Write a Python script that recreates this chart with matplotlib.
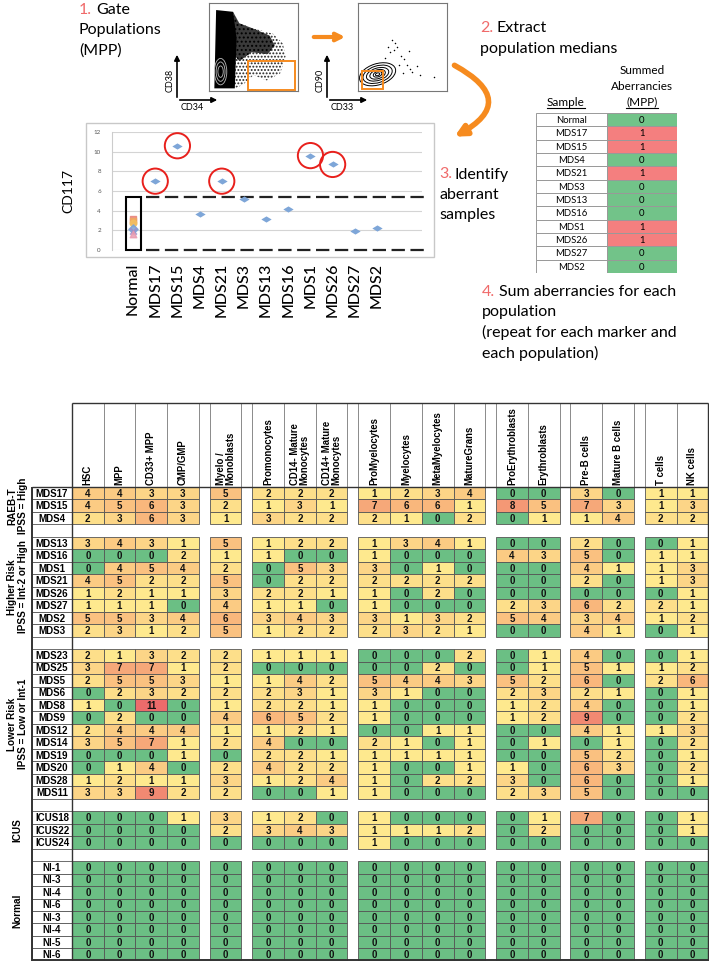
import numpy as np
import matplotlib.pyplot as plt
from matplotlib.patches import Rectangle, Ellipse, Polygon, FancyArrowPatch
from matplotlib.colors import LinearSegmentedColormap

plt.rcParams['font.family'] = ['Lato', 'DejaVu Sans']
plt.rcParams['hatch.linewidth'] = 0.9

W, H = 709, 961
ORANGE = '#f68b1f'
SALMON = '#f06a6a'
TABLE_FONT = ['Liberation Sans', 'DejaVu Sans']

# ---- step 1: gating (rough shapes of the two flow plots, % of axis range)
dense_cd34 = [8, 27, 31, 29, 6]
dense_cd38 = [92, 90, 60, 3, 3]
core_cd34 = [27, 34, 52, 68, 74, 66, 48, 34, 29]
core_cd38 = [90, 77, 70, 63, 52, 42, 44, 34, 40]
spread_cd34 = [27, 31, 50, 72, 83, 86, 80, 65, 50, 38, 29]
spread_cd38 = [90, 75, 71, 65, 54, 39, 20, 12, 18, 7, 3]
gate1 = (44, 1, 53, 33)  # x, y, w, h
cd33_dots = [30, 36, 40, 44, 48, 52, 55, 58, 42, 46, 61, 66, 70, 85, 34, 50, 38, 57]
cd90_dots = [38, 44, 47, 50, 40, 36, 30, 25, 55, 30, 22, 28, 18, 16, 50, 20, 58, 45]
gate2 = (4.5, 2, 23.5, 21)

# ---- step 3: CD117 medians on MPP
samples = ['Normal', 'MDS17', 'MDS15', 'MDS4', 'MDS21', 'MDS3', 'MDS13',
           'MDS16', 'MDS1', 'MDS26', 'MDS27', 'MDS2']
cd117 = [np.nan, 7.0, 10.6, 3.7, 7.0, 5.2, 3.2, 4.2, 9.6, 8.7, 1.9, 2.2]
normal_cd117 = [3.2, 3.0, 2.7, 2.1, 1.9, 1.6]
normal_colors = ['#e8837a', '#f0a860', '#f3c060', '#7aa3d6', '#9b8fc9', '#e89ab0']
normal_markers = ['s', 's', 'o', 'D', 'x', '^']
upper, lower = 5.4, 0.0

# ---- step 4: summed aberrancies, all populations
populations = ['HSC', 'MPP', 'CD33+ MPP', 'CMP/GMP', 'Myelo /\nMonoblasts',
               'Promonocytes', 'CD14- Mature\nMonocytes', 'CD14+ Mature\nMonocytes',
               'ProMyelocytes', 'Myelocytes', 'MetaMyelocytes', 'MatureGrans',
               'ProErythroblasts', 'Erythroblasts', 'Pre-B cells', 'Mature B cells',
               'T cells', 'NK cells']
col_groups = [4, 1, 3, 4, 2, 2, 2]

group_names = ['RAEB-T\nIPSS = High', 'Higher Risk\nIPSS = Int-2 or High',
               'Lower Risk\nIPSS = Low or Int-1', 'ICUS', 'Normal']

raebt_samples = ['MDS17', 'MDS15', 'MDS4']
raebt_vals = [
    [4, 4, 3, 3, 5, 2, 2, 2, 1, 2, 3, 4, 0, 0, 3, 0, 1, 1],
    [4, 5, 6, 3, 2, 1, 3, 1, 7, 6, 6, 1, 8, 5, 7, 3, 1, 3],
    [2, 3, 6, 3, 1, 3, 2, 2, 2, 1, 0, 2, 0, 1, 1, 4, 2, 2],
]
high_samples = ['MDS13', 'MDS16', 'MDS1', 'MDS21', 'MDS26', 'MDS27', 'MDS2', 'MDS3']
high_vals = [
    [3, 4, 3, 1, 5, 1, 2, 2, 1, 3, 4, 1, 0, 0, 2, 0, 0, 1],
    [0, 0, 0, 2, 1, 1, 0, 0, 1, 0, 0, 0, 4, 3, 5, 0, 1, 1],
    [0, 4, 5, 4, 2, 0, 5, 3, 3, 0, 1, 0, 0, 0, 4, 1, 1, 3],
    [4, 5, 2, 2, 5, 0, 2, 2, 2, 2, 2, 2, 0, 0, 2, 0, 1, 3],
    [1, 2, 1, 1, 3, 2, 2, 1, 1, 0, 2, 0, 0, 0, 0, 0, 0, 1],
    [1, 1, 1, 0, 4, 1, 1, 0, 1, 0, 0, 0, 2, 3, 6, 2, 2, 1],
    [5, 5, 3, 4, 6, 3, 4, 3, 3, 1, 3, 2, 5, 4, 3, 4, 1, 2],
    [2, 3, 1, 2, 5, 1, 2, 2, 2, 3, 2, 1, 0, 0, 4, 1, 0, 1],
]
low_samples = ['MDS23', 'MDS25', 'MDS5', 'MDS6', 'MDS8', 'MDS9', 'MDS12', 'MDS14',
               'MDS19', 'MDS20', 'MDS28', 'MDS11']
low_vals = [
    [2, 1, 3, 2, 2, 1, 1, 1, 0, 0, 0, 2, 0, 1, 4, 0, 0, 1],
    [3, 7, 7, 1, 2, 0, 0, 0, 0, 0, 2, 0, 0, 1, 5, 1, 1, 2],
    [2, 5, 5, 3, 1, 1, 4, 2, 5, 4, 4, 3, 5, 2, 6, 0, 2, 6],
    [0, 2, 3, 2, 2, 2, 3, 1, 3, 1, 0, 0, 2, 3, 2, 1, 0, 1],
    [1, 0, 11, 0, 1, 2, 2, 1, 1, 0, 0, 0, 1, 2, 4, 0, 0, 1],
    [0, 2, 0, 0, 4, 6, 5, 2, 1, 0, 0, 0, 1, 2, 9, 0, 0, 2],
    [2, 4, 4, 4, 1, 1, 2, 1, 0, 0, 1, 1, 0, 0, 4, 1, 1, 3],
    [3, 5, 7, 1, 2, 4, 0, 0, 2, 1, 0, 1, 0, 1, 0, 1, 0, 2],
    [0, 0, 0, 1, 0, 2, 2, 1, 1, 1, 1, 1, 0, 0, 5, 2, 0, 1],
    [0, 1, 4, 0, 2, 4, 2, 2, 1, 0, 0, 1, 1, 0, 6, 3, 0, 2],
    [1, 2, 1, 1, 3, 1, 2, 4, 1, 0, 2, 2, 3, 0, 6, 0, 0, 1],
    [3, 3, 9, 2, 2, 0, 0, 1, 1, 0, 0, 0, 2, 3, 5, 0, 0, 0],
]
icus_samples = ['ICUS18', 'ICUS22', 'ICUS24']
icus_vals = [
    [0, 0, 0, 1, 3, 1, 2, 0, 1, 0, 0, 0, 0, 1, 7, 0, 0, 1],
    [0, 0, 0, 0, 2, 3, 4, 3, 1, 1, 1, 2, 0, 2, 0, 0, 0, 1],
    [0, 0, 0, 0, 0, 0, 0, 0, 1, 0, 0, 0, 0, 0, 0, 0, 0, 0],
]
normal_samples = ['Nl-1', 'Nl-3', 'Nl-4', 'Nl-6', 'Nl-3', 'Nl-4', 'Nl-5', 'Nl-6']
normal_vals = [[0] * 18 for _ in normal_samples]

row_groups = [(raebt_samples, raebt_vals), (high_samples, high_vals),
              (low_samples, low_vals), (icus_samples, icus_vals),
              (normal_samples, normal_vals)]

GREEN = '#6bbf84'
warm = LinearSegmentedColormap.from_list('warm', ['#fee98e', '#f9b77c', '#ec6b6b'])


def cell_color(v, vmax=11):
    if v == 0:
        return GREEN
    return warm((v - 1) / (vmax - 1))


fig = plt.figure(figsize=(W / 100, H / 100), dpi=100)


def box(x0, y0, x1, y1):
    return fig.add_axes([x0 / W, 1 - y1 / H, (x1 - x0) / W, (y1 - y0) / H])


# ---------------- flow plots
f1 = box(209, 3, 298, 91)
f1.add_patch(Polygon(list(zip(spread_cd34, spread_cd38)), closed=True, facecolor='white',
                     edgecolor='#222222', lw=0, hatch='.....'))
f1.add_patch(Polygon(list(zip(core_cd34, core_cd38)), closed=True, facecolor='#3a3a3a',
                     edgecolor='black', lw=0, hatch='....'))
f1.add_patch(Polygon(list(zip(dense_cd34, dense_cd38)), closed=True, facecolor='black',
                     edgecolor='black', lw=0))
for w_, h_ in [(14, 30), (10, 22), (6, 13)]:
    f1.add_patch(Ellipse((13, 22), w_, h_, facecolor='none', edgecolor='#bbbbbb', lw=0.6))
f1.add_patch(Rectangle(gate1[:2], gate1[2], gate1[3], facecolor='none',
                       edgecolor=ORANGE, lw=1.4))

f2 = box(358, 3, 447, 91)
f2.scatter(cd33_dots, cd90_dots, s=1.2, color='black', lw=0)
for w_, h_ in [(42, 24), (34, 19), (26, 14), (18, 10), (10, 6), (5, 3)]:
    f2.add_patch(Ellipse((22, 19), w_, h_, angle=18, facecolor='none',
                         edgecolor='black', lw=0.7))
f2.add_patch(Rectangle(gate2[:2], gate2[2], gate2[3], facecolor='none',
                       edgecolor=ORANGE, lw=1.4))
for a in (f1, f2):
    a.set_xlim(0, 100)
    a.set_ylim(0, 100)
    a.set_xticks([])
    a.set_yticks([])
    for s in a.spines.values():
        s.set_color('#777777')
        s.set_linewidth(0.8)

# ---------------- CD117 dot plot
dp = box(112, 132, 422, 250)
xs = np.arange(len(samples))
diamond = [(-1, 0), (0, 0.6), (1, 0), (0, -0.6), (-1, 0)]
dp.scatter(xs, cd117, marker=diamond, s=55, color='#7ea6d8', zorder=3, lw=0)
for v, c, m in zip(normal_cd117, normal_colors, normal_markers):
    dp.scatter([0], [v], marker=m, s=22, color=c, zorder=3, alpha=0.85)
cd117_arr = np.array(cd117)
aberrant = np.nan_to_num(((cd117_arr > upper) | (cd117_arr < lower)).astype(float)).astype(int)
hit = aberrant == 1
dp.scatter(xs[hit], cd117_arr[hit], s=330, facecolor='none', edgecolor='#e8201c',
           lw=1.4, zorder=4)
dp.hlines([upper, lower], 0.6, 13.1, colors='#222222', linestyles=(0, (6, 2.5)),
          lw=1.6, clip_on=False, zorder=2)
dp.add_patch(Rectangle((-0.32, lower), 0.68, upper - lower, facecolor='none',
                       edgecolor='black', lw=1.5, clip_on=False, zorder=5))
dp.set_xlim(-0.95, 13.03)
dp.set_ylim(0, 12)
dp.set_yticks(range(0, 13, 2))
dp.set_yticklabels([str(t) for t in range(0, 13, 2)], fontsize=4.5, color='#555555')
dp.yaxis.grid(True, color='#d4d4d4', lw=0.8)
dp.set_axisbelow(True)
dp.set_xticks(xs)
dp.set_xticklabels(samples, rotation=90, fontsize=11.5, fontweight='medium')
dp.tick_params(length=0)
dp.tick_params(axis='x', pad=9)
dp.tick_params(axis='y', pad=8)
for k in ['top', 'right', 'bottom']:
    dp.spines[k].set_visible(False)
dp.spines['left'].set_color('#cccccc')
dp.set_ylabel('CD117', fontsize=10)
dp.yaxis.set_label_coords(-0.12, 0.5)

# ---------------- small MPP table
st = box(536, 113, 677, 273)
for i, (s, a) in enumerate(zip(samples, aberrant)):
    st.add_patch(Rectangle((0, i), 1, 1, facecolor='white', edgecolor='#999999', lw=0.7))
    st.add_patch(Rectangle((1, i), 1, 1, facecolor='#f47f7f' if a else '#72c389',
                           edgecolor='#999999', lw=0.7))
    st.text(0.5, i + 0.55, s, ha='center', va='center', fontsize=6.8)
    st.text(1.5, i + 0.55, str(a), ha='center', va='center', fontsize=6.8)
st.set_xlim(0, 2)
st.set_ylim(len(samples), 0)
st.axis('off')

# ---------------- big heatmap
cw, ch = 31.7, 12.47
hm = box(0, 398, 709, 961)
hm.set_xlim(-72 / cw, (W - 72) / cw)
hm.set_ylim((961 - 487) / ch, -(487 - 398) / ch)
hm.axis('off')

col_gap = 0.345
col_x = []
x = 0
for n in col_groups:
    for k in range(n):
        col_x.append(x)
        x += 1
    x += col_gap
right = x - col_gap
head_top = -(487 - 403) / ch
lab_left = -(72 - 32) / cw

y = 0
for gi, (names, vals) in enumerate(row_groups):
    y0 = y
    for name, row in zip(names, vals):
        for cx, v in zip(col_x, row):
            hm.add_patch(Rectangle((cx, y), 1, 1, facecolor=cell_color(v),
                                   edgecolor='#555555', lw=0.6))
            hm.text(cx + 0.5, y + 0.55, str(v), ha='center', va='center',
                    fontsize=7, fontweight='bold', color='#111111', family=TABLE_FONT)
        hm.add_patch(Rectangle((lab_left, y), -lab_left, 1, facecolor='white',
                               edgecolor='#555555', lw=0.6))
        hm.text(lab_left / 2, y + 0.55, name, ha='center', va='center',
                fontsize=7, fontweight='bold', family=TABLE_FONT)
        y += 1
    hm.text(-1.72, (y0 + y) / 2, group_names[gi], rotation=90, ha='center',
            va='center', fontsize=7.2, fontweight='bold', multialignment='center',
            linespacing=1.1, family=TABLE_FONT)
    y += 1
bottom = y - 1

# header
for cx, name in zip(col_x, populations):
    hm.text(cx + 0.5, -0.2, name, rotation=90, ha='center', va='bottom',
            fontsize=6.9, fontweight='bold', multialignment='left', linespacing=0.9,
            family=TABLE_FONT)
edges = sorted(set(col_x + [c + 1 for c in col_x]))
hm.vlines(edges, head_top, 0, colors='#777777', lw=0.6)
hm.hlines(head_top, 0, right, colors='#333333', lw=1.0)
hm.hlines(0, lab_left, right, colors='#333333', lw=1.0)
hm.vlines(0, head_top, bottom, colors='#333333', lw=1.0)
hm.vlines(lab_left, 0, bottom, colors='#333333', lw=1.4)
hm.vlines(right, head_top, bottom, colors='#333333', lw=1.0)
hm.hlines(bottom - 0.04, lab_left, right, colors='#333333', lw=1.4)

# ---------------- overlay: texts, arrows, frames
ov = fig.add_axes([0, 0, 1, 1])
ov.set_xlim(0, W)
ov.set_ylim(H, 0)
ov.axis('off')
ov.patch.set_alpha(0)

ov.add_patch(Rectangle((86, 123), 348, 134, facecolor='none', edgecolor='#c8c8c8', lw=1))


def step(x, y, num, lines, xtext):
    ov.text(x, y, num, color=SALMON, fontsize=11.5, va='center_baseline')
    ov.text(xtext, y, lines[0], fontsize=11.5, va='center_baseline')
    for k, line in enumerate(lines[1:]):
        ov.text(x, y + 20.5 * (k + 1), line, fontsize=11.5, va='center_baseline')


step(79, 8, '1.', ['Gate', 'Populations', '(MPP)'], 96)
step(480, 27, '2.', ['Extract', 'population medians'], 497)
step(439, 173, '3.', ['Identify', 'aberrant', 'samples'], 454)
step(482, 290, '4.', ['Sum aberrancies for each', 'population',
                      '(repeat for each marker and', 'each population)'], 499)

ov.text(642, 70, 'Summed', ha='center', va='center', fontsize=8.5)
ov.text(642, 86, 'Aberrancies', ha='center', va='center', fontsize=8.5)
underlined = [ov.text(642, 102, '(MPP)', ha='center', va='center', fontsize=8.5),
              ov.text(566, 102, 'Sample', ha='center', va='center', fontsize=8.5)]

# flow axis arrows
for ax0, lx, ly in [(177, 'CD38', 'CD34'), (327, 'CD90', 'CD33')]:
    ov.annotate('', xy=(ax0, 52), xytext=(ax0, 100),
                arrowprops=dict(arrowstyle='-|>', color='black', lw=1.2, mutation_scale=8))
    ov.annotate('', xy=(ax0 + 43, 100), xytext=(ax0, 100),
                arrowprops=dict(arrowstyle='-|>', color='black', lw=1.2, mutation_scale=8))
    ov.text(ax0 - 7, 80, lx, rotation=90, ha='center', va='center', fontsize=6.5)
    ov.text(ax0 + 15, 108, ly, ha='center', va='center', fontsize=6.5)

ov.add_patch(FancyArrowPatch((311, 37), (348, 37), arrowstyle='->', color=ORANGE,
                             lw=3, mutation_scale=12))
ov.add_patch(FancyArrowPatch((452, 64), (452, 138), connectionstyle='arc3,rad=-0.95',
                             arrowstyle='-|>', color=ORANGE, lw=4, mutation_scale=16))

# underline the two table headings from their rendered extents
fig.canvas.draw()
inv = ov.transData.inverted()
for t in underlined:
    bb = t.get_window_extent()
    (x0, y0), (x1, y1) = inv.transform([[bb.x0, bb.y0], [bb.x1, bb.y1]])
    ov.plot([x0, x1], [y0 + 1, y0 + 1], color='black', lw=0.8)

fig.savefig('out.png', dpi=100)
